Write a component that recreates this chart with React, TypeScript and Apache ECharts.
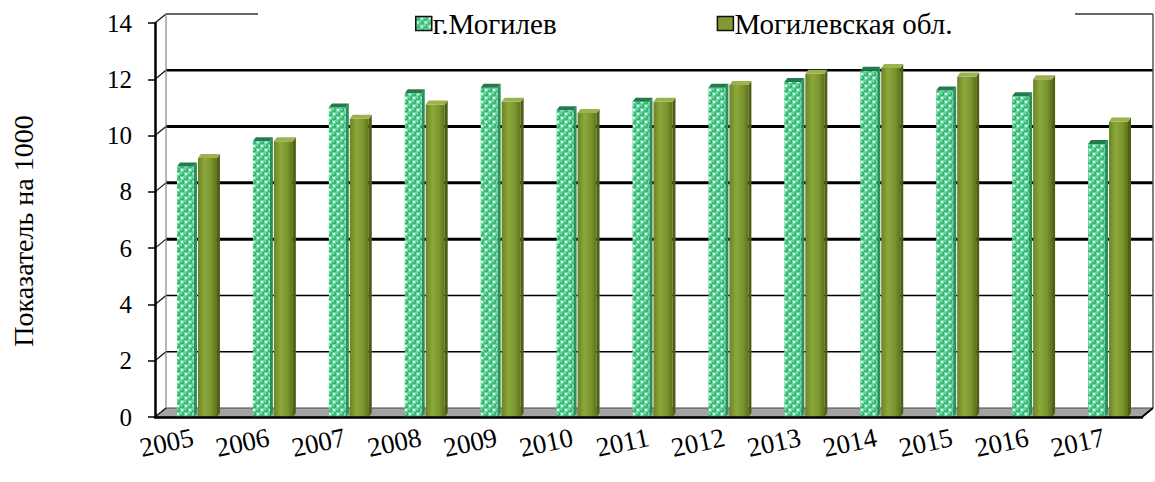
import React, { useEffect, useRef } from "react";
import * as echarts from "echarts";

const years = ["2005", "2006", "2007", "2008", "2009", "2010", "2011", "2012", "2013", "2014", "2015", "2016", "2017"];
const cityValues = [8.9, 9.8, 11.0, 11.5, 11.7, 10.9, 11.2, 11.7, 11.9, 12.3, 11.6, 11.4, 9.7];
const regionValues = [9.2, 9.8, 10.6, 11.1, 11.2, 10.8, 11.2, 11.8, 12.2, 12.4, 12.1, 12.0, 10.5];
const yTicks = [0, 2, 4, 6, 8, 10, 12, 14];
const seriesNames = ["г.Могилев", "Могилевская обл."];
const yAxisTitle = "Показатель на 1000";

const SERIF = "Liberation Serif";
const DX = 11;
const DY = 9;
const gridWidth: Record<number, number> = { 0: 1, 2: 1.5, 4: 1.5, 6: 3, 8: 3, 10: 3, 12: 2.5, 14: 1.5 };

function makeDots(): HTMLCanvasElement {
  const c = document.createElement("canvas");
  c.width = 8;
  c.height = 8;
  const g = c.getContext("2d")!;
  g.fillStyle = "#dcfbea";
  g.fillRect(0, 0, 8, 8);
  const dot = (x: number, y: number) => {
    g.fillStyle = "#2fba76";
    g.beginPath();
    g.arc(x, y, 2.7, 0, Math.PI * 2);
    g.fill();
    g.fillStyle = "#96ebbf";
    g.beginPath();
    g.arc(x - 0.8, y - 0.8, 1, 0, Math.PI * 2);
    g.fill();
  };
  [[2, 2], [6, 6], [6, -2], [-2, 6], [10, 6], [6, 10], [10, 2], [2, 10], [-2, -2], [10, 10]].forEach(([x, y]) => dot(x, y));
  return c;
}

export default function App() {
  const ref = useRef<HTMLDivElement>(null);
  useEffect(() => {
    if (!ref.current) return;
    const chart = echarts.init(ref.current, null, { renderer: "svg" });
    const dots = makeDots();
    const greenFill: any = { image: dots, repeat: "repeat", imageWidth: 8, imageHeight: 8 };
    const oliveFill: any = new echarts.graphic.LinearGradient(0, 0, 1, 0, [
      { offset: 0, color: "#6c8224" },
      { offset: 0.35, color: "#8ca83c" },
      { offset: 0.7, color: "#7d962f" },
      { offset: 1, color: "#5e711b" },
    ]);

    const styles = [
      { off: -16, w: 17, face: greenFill, side: "#2b8f5b", cap: "#237a4c" },
      { off: 5, w: 19, face: oliveFill, side: "#4e5f14", cap: "#9cb24c" },
    ];

    const barRender = (k: number) => (params: any, api: any) => {
      const i = api.value(0);
      const v = api.value(1);
      const base = api.coord([i, 0]);
      const top = api.coord([i, v]);
      const bw = api.size([1, 0])[0];
      const s = bw / 76;
      const st = styles[k];
      const x0 = base[0] + st.off * s;
      const w = st.w * s;
      const sd = 3 * s;
      const dy = 4;
      const yb = base[1];
      const yt = top[1];
      return {
        type: "group",
        children: [
          { type: "rect", shape: { x: x0, y: yt, width: w, height: yb - yt }, style: { fill: st.face } },
          {
            type: "polygon",
            shape: { points: [[x0 + w, yt], [x0 + w + sd, yt - dy], [x0 + w + sd, yb - dy], [x0 + w, yb]] },
            style: { fill: st.side },
          },
          {
            type: "polygon",
            shape: { points: [[x0, yt], [x0 + sd, yt - dy], [x0 + w + sd, yt - dy], [x0 + w, yt]] },
            style: { fill: st.cap },
          },
        ],
      };
    };

    const frameRender = (params: any, api: any) => {
      const bw = api.size([1, 0])[0];
      const xl = api.coord([0, 0])[0] - bw / 2;
      const xr = api.coord([years.length - 1, 0])[0] + bw / 2;
      const y0 = api.coord([0, 0])[1];
      const yMax = yTicks[yTicks.length - 1];
      const yTop = api.coord([0, yMax])[1];
      const children: any[] = [];
      children.push({
        type: "polygon",
        shape: { points: [[xl, y0], [xr, y0], [xr + DX, y0 - DY], [xl + DX, y0 - DY]] },
        style: { fill: "#a3a3a3", stroke: "#444", lineWidth: 1 },
      });
      yTicks.forEach((t) => {
        const y = api.coord([0, t])[1];
        if (t > 0) {
          children.push({
            type: "line",
            shape: { x1: xl + DX, y1: y - DY, x2: xr + DX, y2: y - DY },
            style: { stroke: t === yMax ? "#333" : "#000", lineWidth: gridWidth[t] },
          });
        }
        children.push({
          type: "line",
          shape: { x1: xl, y1: y, x2: xl + DX, y2: y - DY },
          style: { stroke: "#111", lineWidth: 1.2 },
        });
      });
      children.push({
        type: "line",
        shape: { x1: xl + DX, y1: yTop - DY, x2: xl + DX, y2: y0 - DY },
        style: { stroke: "#888", lineWidth: 1.2 },
      });
      children.push({
        type: "line",
        shape: { x1: xr + DX, y1: yTop - DY, x2: xr + DX, y2: y0 - DY },
        style: { stroke: "#555", lineWidth: 1.5 },
      });
      children.push({
        type: "line",
        shape: { x1: xr, y1: y0, x2: xr + DX, y2: y0 - DY },
        style: { stroke: "#000", lineWidth: 1.8 },
      });
      return { type: "group", children };
    };

    chart.setOption({
      animation: false,
      backgroundColor: "#fff",
      grid: { left: 155, right: 13, top: 23, bottom: 65 },
      xAxis: {
        type: "category",
        data: years,
        z: 10,
        axisLine: { lineStyle: { color: "#000", width: 2.5 } },
        axisTick: { length: 7, lineStyle: { color: "#000", width: 1.5 } },
        axisLabel: { rotate: 12, margin: 20, fontFamily: SERIF, fontSize: 27, color: "#000" },
        splitLine: { show: false },
      },
      yAxis: {
        type: "value",
        min: 0,
        max: 14,
        interval: 2,
        z: 10,
        axisLine: { show: true, lineStyle: { color: "#000", width: 2.5 } },
        axisTick: { show: true, length: 7, lineStyle: { color: "#000", width: 1.5 } },
        axisLabel: { margin: 23, fontFamily: SERIF, fontSize: 25, color: "#000" },
        splitLine: { show: false },
      },
      legend: {
        data: [
          { name: seriesNames[0], itemStyle: { color: greenFill, borderColor: "#111", borderWidth: 1.5 } },
          { name: seriesNames[1], itemStyle: { color: "#7f9a2e", borderColor: "#111", borderWidth: 1.5 } },
        ],
        left: 410,
        top: 4,
        icon: "rect",
        itemWidth: 16,
        itemHeight: 14,
        itemGap: 160,
        z: 10,
        textStyle: { fontFamily: SERIF, fontSize: 29, color: "#000", padding: [0, 0, 0, -4] },
      },
      graphic: [
        { type: "rect", z: 5, left: 258, top: 0, shape: { width: 817, height: 50 }, style: { fill: "#fff" } },
        {
          type: "text",
          z: 5,
          x: 23,
          y: 231,
          rotation: Math.PI / 2,
          style: { text: yAxisTitle, font: "28px \"Liberation Serif\"", fill: "#000", align: "center", verticalAlign: "middle" },
        },
      ],
      series: [
        {
          type: "custom",
          name: "frame",
          silent: true,
          clip: false,
          z: 1,
          data: [[0, 0]],
          renderItem: frameRender,
        },
        {
          type: "custom",
          name: seriesNames[0],
          clip: false,
          z: 3,
          itemStyle: { color: greenFill },
          data: cityValues.map((v, i) => [i, v]),
          renderItem: barRender(0),
        },
        {
          type: "custom",
          name: seriesNames[1],
          clip: false,
          z: 3,
          itemStyle: { color: "#7f9a2e" },
          data: regionValues.map((v, i) => [i, v]),
          renderItem: barRender(1),
        },
      ],
    });
    return () => chart.dispose();
  }, []);
  return <div ref={ref} style={{ position: "fixed", left: 0, top: 0, width: 1155, height: 482 }} />;
}
